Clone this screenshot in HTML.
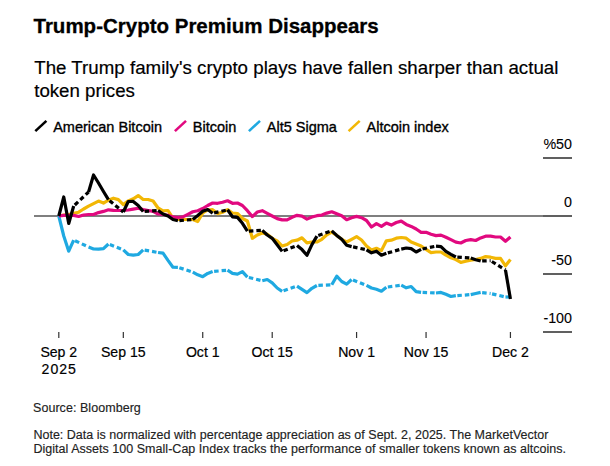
<!DOCTYPE html><html><head><meta charset="utf-8"><style>html,body{margin:0;padding:0;background:#fff;}svg{display:block}text{font-family:"Liberation Sans",sans-serif;} .m{stroke:#000;stroke-width:0.35px;} .n{stroke:#222;stroke-width:0.15px;} .xl{stroke:#000;stroke-width:0.2px;} .yl{stroke:#000;stroke-width:0.1px;}</style></head><body>
<svg width="610" height="466" viewBox="0 0 610 466">
<rect width="610" height="466" fill="#fff"/>
<text x="33.5" y="33" font-size="20.5" font-weight="700" fill="#000" stroke="#000" stroke-width="0.3">Trump-Crypto Premium Disappears</text>
<text x="34.2" y="73.6" font-size="18.7" fill="#000" stroke="#000" stroke-width="0.2" textLength="524.2" lengthAdjust="spacing">The Trump family's crypto plays have fallen sharper than actual</text>
<text x="34.2" y="97.1" font-size="18.7" fill="#000" stroke="#000" stroke-width="0.2">token prices</text>
<line x1="35.30" y1="131.1" x2="46.40" y2="120.9" stroke="#000" stroke-width="2.6" stroke-linecap="butt"/>
<text x="53.2" y="131.7" font-size="14.5" fill="#000" class="m">American Bitcoin</text>
<line x1="174.90" y1="131.1" x2="186.00" y2="120.9" stroke="#e1097f" stroke-width="2.6" stroke-linecap="butt"/>
<text x="192.8" y="131.7" font-size="14.5" fill="#000" class="m">Bitcoin</text>
<line x1="248.90" y1="131.1" x2="260.00" y2="120.9" stroke="#1fa9e1" stroke-width="2.6" stroke-linecap="butt"/>
<text x="266.8" y="131.7" font-size="14.5" fill="#000" class="m">Alt5 Sigma</text>
<line x1="348.60" y1="131.1" x2="359.70" y2="120.9" stroke="#f2b705" stroke-width="2.6" stroke-linecap="butt"/>
<text x="366.5" y="131.7" font-size="14.5" fill="#000" class="m">Altcoin index</text>
<rect x="34" y="215" width="510" height="2" fill="#7f7f7f"/>
<rect x="543" y="157" width="29" height="2" fill="#606060"/>
<rect x="543" y="215" width="29" height="2" fill="#606060"/>
<rect x="543" y="273" width="29" height="2" fill="#606060"/>
<rect x="543" y="331" width="29" height="2" fill="#606060"/>
<text x="572" y="149" font-size="14.3" fill="#000" class="yl" text-anchor="end">%50</text>
<text x="572" y="207" font-size="14.3" fill="#000" class="yl" text-anchor="end">0</text>
<text x="572" y="265" font-size="14.3" fill="#000" class="yl" text-anchor="end">-50</text>
<text x="572" y="323" font-size="14.3" fill="#000" class="yl" text-anchor="end">-100</text>
<rect x="58.20" y="332" width="1.2" height="6" fill="#333"/>
<text x="58.80" y="356.6" font-size="14.1" fill="#000" class="xl" text-anchor="middle">Sep 2</text>
<rect x="122.72" y="332" width="1.2" height="6" fill="#333"/>
<text x="123.32" y="356.6" font-size="14.1" fill="#000" class="xl" text-anchor="middle">Sep 15</text>
<rect x="202.13" y="332" width="1.2" height="6" fill="#333"/>
<text x="202.73" y="356.6" font-size="14.1" fill="#000" class="xl" text-anchor="middle">Oct 1</text>
<rect x="271.61" y="332" width="1.2" height="6" fill="#333"/>
<text x="272.21" y="356.6" font-size="14.1" fill="#000" class="xl" text-anchor="middle">Oct 15</text>
<rect x="355.98" y="332" width="1.2" height="6" fill="#333"/>
<text x="356.58" y="356.6" font-size="14.1" fill="#000" class="xl" text-anchor="middle">Nov 1</text>
<rect x="425.46" y="332" width="1.2" height="6" fill="#333"/>
<text x="426.06" y="356.6" font-size="14.1" fill="#000" class="xl" text-anchor="middle">Nov 15</text>
<rect x="509.83" y="332" width="1.2" height="6" fill="#333"/>
<text x="510.43" y="356.6" font-size="14.1" fill="#000" class="xl" text-anchor="middle">Dec 2</text>
<text x="41.60" y="373.6" font-size="14.1" fill="#000" class="xl" textLength="34.2" lengthAdjust="spacing">2025</text>
<text x="33" y="412" font-size="12.5" fill="#222" class="n" textLength="107.8" lengthAdjust="spacing">Source: Bloomberg</text>
<text x="33.4" y="439" font-size="12.5" fill="#222" class="n" textLength="515" lengthAdjust="spacing">Note: Data is normalized with percentage appreciation as of Sept. 2, 2025. The MarketVector</text>
<text x="33.4" y="452.6" font-size="12.5" fill="#222" class="n" textLength="532.6" lengthAdjust="spacing">Digital Assets 100 Small-Cap Index tracks the performance of smaller tokens known as altcoins.</text>
<polyline points="58.80,216.00 63.76,215.00 68.73,214.50 73.69,213.40 78.65,212.20 83.61,209.00 88.58,206.20 93.54,203.60 98.50,201.10 103.47,203.10 108.43,200.20 113.39,198.20 118.36,199.60 123.32,204.60 128.28,200.90 133.25,198.80 138.21,195.60 143.17,199.50 148.13,199.50 153.10,201.00 158.06,208.00 163.02,210.80 167.99,210.50 172.95,218.20 177.91,219.50 182.88,219.50 187.84,219.50 192.80,219.50 197.76,221.50 202.73,213.00 207.69,210.00 212.65,209.70 217.62,213.60 222.58,212.30 227.54,209.70 232.50,213.00 237.47,213.50 242.43,218.50 247.39,221.00 252.36,238.30 257.32,235.00 262.28,233.00 267.25,234.30 272.21,238.30 277.17,240.90 282.13,246.00 287.10,244.50 292.06,241.00 297.02,240.20 301.99,237.80 306.95,242.80 311.91,242.00 316.88,242.00 321.84,239.30 326.80,234.80 331.77,232.10 336.73,235.40 341.69,239.30 346.65,242.00 351.62,239.30 356.58,236.70 361.54,240.00 366.51,246.00 371.47,250.00 376.43,248.30 381.40,250.60 386.36,240.80 391.32,240.20 396.28,238.20 401.25,237.50 406.21,238.20 411.17,242.10 416.14,244.10 421.10,246.10 426.06,249.30 431.03,252.60 435.99,252.00 440.95,252.00 445.91,255.20 450.88,257.80 455.84,259.50 460.80,262.40 465.77,261.20 470.73,260.10 475.69,259.50 480.66,258.40 485.62,256.60 490.58,257.20 495.54,258.40 500.51,258.40 505.47,265.80 510.43,259.50" fill="none" stroke="#f2b705" stroke-width="3.2" stroke-linejoin="round" stroke-linecap="butt"/>
<polyline points="58.80,216.00 63.76,236.00 68.73,251.20 73.69,240.10" fill="none" stroke="#1fa9e1" stroke-width="3.2" stroke-linejoin="round" stroke-linecap="butt"/>
<polyline points="88.58,247.00 93.54,249.00 98.50,249.20 103.47,248.70 108.43,244.00" fill="none" stroke="#1fa9e1" stroke-width="3.2" stroke-linejoin="round" stroke-linecap="butt"/>
<polyline points="123.32,249.90 128.28,254.50 133.25,255.20 138.21,254.50 143.17,249.90" fill="none" stroke="#1fa9e1" stroke-width="3.2" stroke-linejoin="round" stroke-linecap="butt"/>
<polyline points="158.06,252.50 163.02,253.20 167.99,260.40 172.95,267.20 177.91,267.30" fill="none" stroke="#1fa9e1" stroke-width="3.2" stroke-linejoin="round" stroke-linecap="butt"/>
<polyline points="192.80,272.10 197.76,274.80 202.73,276.70 207.69,273.40 212.65,271.50" fill="none" stroke="#1fa9e1" stroke-width="3.2" stroke-linejoin="round" stroke-linecap="butt"/>
<polyline points="227.54,270.20 232.50,273.40 237.47,274.10 242.43,271.60 247.39,277.10" fill="none" stroke="#1fa9e1" stroke-width="3.2" stroke-linejoin="round" stroke-linecap="butt"/>
<polyline points="262.28,280.80 267.25,279.50 272.21,282.80 277.17,288.00 282.13,291.30" fill="none" stroke="#1fa9e1" stroke-width="3.2" stroke-linejoin="round" stroke-linecap="butt"/>
<polyline points="297.02,286.10 301.99,289.30 306.95,292.60 311.91,288.30 316.88,285.50" fill="none" stroke="#1fa9e1" stroke-width="3.2" stroke-linejoin="round" stroke-linecap="butt"/>
<polyline points="331.77,284.80 336.73,276.20 341.69,281.50 346.65,284.10 351.62,279.50" fill="none" stroke="#1fa9e1" stroke-width="3.2" stroke-linejoin="round" stroke-linecap="butt"/>
<polyline points="366.51,285.40 371.47,288.00 376.43,289.30 381.40,291.20 386.36,287.20" fill="none" stroke="#1fa9e1" stroke-width="3.2" stroke-linejoin="round" stroke-linecap="butt"/>
<polyline points="401.25,285.20 406.21,287.80 411.17,286.50 416.14,291.70 421.10,292.40" fill="none" stroke="#1fa9e1" stroke-width="3.2" stroke-linejoin="round" stroke-linecap="butt"/>
<polyline points="435.99,293.00 440.95,292.40 445.91,294.30 450.88,296.50 455.84,295.70" fill="none" stroke="#1fa9e1" stroke-width="3.2" stroke-linejoin="round" stroke-linecap="butt"/>
<polyline points="470.73,294.60 475.69,293.50 480.66,292.40" fill="none" stroke="#1fa9e1" stroke-width="3.2" stroke-linejoin="round" stroke-linecap="butt"/>
<polyline points="505.47,297.00 510.43,297.00" fill="none" stroke="#1fa9e1" stroke-width="3.2" stroke-linejoin="round" stroke-linecap="butt"/>
<line x1="73.69" y1="240.1" x2="88.58" y2="247" stroke="#1fa9e1" stroke-width="3.2" stroke-dasharray="4.5 3" stroke-dashoffset="-1.5"/>
<line x1="108.43" y1="244" x2="123.32" y2="249.9" stroke="#1fa9e1" stroke-width="3.2" stroke-dasharray="4.5 3" stroke-dashoffset="-1.5"/>
<line x1="143.17" y1="249.9" x2="158.06" y2="252.5" stroke="#1fa9e1" stroke-width="3.2" stroke-dasharray="4.5 3" stroke-dashoffset="-1.5"/>
<line x1="177.91" y1="267.3" x2="192.80" y2="272.1" stroke="#1fa9e1" stroke-width="3.2" stroke-dasharray="4.5 3" stroke-dashoffset="-1.5"/>
<line x1="212.65" y1="271.5" x2="227.54" y2="270.2" stroke="#1fa9e1" stroke-width="3.2" stroke-dasharray="4.5 3" stroke-dashoffset="-1.5"/>
<line x1="247.39" y1="277.1" x2="262.28" y2="280.8" stroke="#1fa9e1" stroke-width="3.2" stroke-dasharray="4.5 3" stroke-dashoffset="-1.5"/>
<line x1="282.13" y1="291.3" x2="297.02" y2="286.1" stroke="#1fa9e1" stroke-width="3.2" stroke-dasharray="4.5 3" stroke-dashoffset="-1.5"/>
<line x1="316.88" y1="285.5" x2="331.77" y2="284.8" stroke="#1fa9e1" stroke-width="3.2" stroke-dasharray="4.5 3" stroke-dashoffset="-1.5"/>
<line x1="351.62" y1="279.5" x2="366.51" y2="285.4" stroke="#1fa9e1" stroke-width="3.2" stroke-dasharray="4.5 3" stroke-dashoffset="-1.5"/>
<line x1="386.36" y1="287.2" x2="401.25" y2="285.2" stroke="#1fa9e1" stroke-width="3.2" stroke-dasharray="4.5 3" stroke-dashoffset="-1.5"/>
<line x1="421.10" y1="292.4" x2="435.99" y2="293" stroke="#1fa9e1" stroke-width="3.2" stroke-dasharray="4.5 3" stroke-dashoffset="-1.5"/>
<line x1="455.84" y1="295.7" x2="470.73" y2="294.6" stroke="#1fa9e1" stroke-width="3.2" stroke-dasharray="4.5 3" stroke-dashoffset="-1.5"/>
<line x1="480.66" y1="292.4" x2="490.58" y2="293.5" stroke="#1fa9e1" stroke-width="3.2" stroke-dasharray="4.5 3" stroke-dashoffset="-1.5"/>
<line x1="490.58" y1="293.5" x2="505.47" y2="297" stroke="#1fa9e1" stroke-width="3.2" stroke-dasharray="4.5 3" stroke-dashoffset="-1.5"/>
<polyline points="58.80,216.00 63.76,215.30 68.73,215.30 73.69,215.40 78.65,216.50 83.61,215.00 88.58,214.50 93.54,214.50 98.50,212.60 103.47,211.40 108.43,209.80 113.39,210.40 118.36,210.50 123.32,210.50 128.28,210.00 133.25,209.10 138.21,208.20 143.17,209.60 148.13,210.50 153.10,211.30 158.06,214.00 163.02,214.50 167.99,215.30 172.95,216.90 177.91,217.50 182.88,216.90 187.84,214.30 192.80,211.80 197.76,210.80 202.73,208.50 207.69,205.50 212.65,203.00 217.62,203.30 222.58,202.30 227.54,200.80 232.50,203.30 237.47,203.00 242.43,205.50 247.39,210.70 252.36,216.60 257.32,212.00 262.28,210.70 267.25,213.40 272.21,216.00 277.17,218.60 282.13,219.90 287.10,219.90 292.06,217.30 297.02,215.30 301.99,216.10 306.95,219.10 311.91,217.00 316.88,215.70 321.84,215.10 326.80,213.10 331.77,211.80 336.73,213.80 341.69,215.70 346.65,219.70 351.62,217.70 356.58,216.40 361.54,217.70 366.51,220.50 371.47,227.00 376.43,223.60 381.40,226.40 386.36,223.10 391.32,225.10 396.28,222.50 401.25,221.10 406.21,224.40 411.17,226.40 416.14,229.00 421.10,232.30 426.06,232.30 431.03,234.30 435.99,235.60 440.95,235.10 445.91,237.20 450.88,239.60 455.84,242.20 460.80,243.00 465.77,240.50 470.73,239.60 475.69,240.50 480.66,237.90 485.62,236.20 490.58,236.20 495.54,237.00 500.51,237.00 505.47,241.30 510.43,237.00" fill="none" stroke="#e1097f" stroke-width="3.2" stroke-linejoin="round" stroke-linecap="butt"/>
<polyline points="58.80,216.00 63.76,197.00 68.73,223.50 73.69,206.00" fill="none" stroke="#000" stroke-width="3.2" stroke-linejoin="round" stroke-linecap="butt"/>
<polyline points="88.58,192.00 93.54,175.00 98.50,183.00 103.47,191.50 108.43,199.70" fill="none" stroke="#000" stroke-width="3.2" stroke-linejoin="round" stroke-linecap="butt"/>
<polyline points="123.32,212.00 128.28,201.50 133.25,201.40 138.21,205.50 143.17,211.50" fill="none" stroke="#000" stroke-width="3.2" stroke-linejoin="round" stroke-linecap="butt"/>
<polyline points="158.06,210.50 163.02,214.00 167.99,216.00 172.95,219.50 177.91,220.80" fill="none" stroke="#000" stroke-width="3.2" stroke-linejoin="round" stroke-linecap="butt"/>
<polyline points="192.80,219.50 197.76,215.50 202.73,211.30 207.69,209.50 212.65,213.20" fill="none" stroke="#000" stroke-width="3.2" stroke-linejoin="round" stroke-linecap="butt"/>
<polyline points="227.54,209.80 232.50,216.80 237.47,217.40 242.43,223.30 247.39,231.20" fill="none" stroke="#000" stroke-width="3.2" stroke-linejoin="round" stroke-linecap="butt"/>
<polyline points="262.28,230.30 267.25,235.00 272.21,238.30 277.17,244.80 282.13,251.40" fill="none" stroke="#000" stroke-width="3.2" stroke-linejoin="round" stroke-linecap="butt"/>
<polyline points="297.02,245.50 301.99,249.60 306.95,255.20 311.91,244.60 316.88,236.10" fill="none" stroke="#000" stroke-width="3.2" stroke-linejoin="round" stroke-linecap="butt"/>
<polyline points="331.77,230.80 336.73,235.40 341.69,239.30 346.65,245.20 351.62,246.60" fill="none" stroke="#000" stroke-width="3.2" stroke-linejoin="round" stroke-linecap="butt"/>
<polyline points="366.51,249.80 371.47,252.80 376.43,251.20 381.40,255.20 386.36,253.30" fill="none" stroke="#000" stroke-width="3.2" stroke-linejoin="round" stroke-linecap="butt"/>
<polyline points="401.25,249.10 406.21,248.00 411.17,248.70 416.14,252.00 421.10,249.30" fill="none" stroke="#000" stroke-width="3.2" stroke-linejoin="round" stroke-linecap="butt"/>
<polyline points="435.99,246.10 440.95,246.60 445.91,251.40 450.88,254.30 455.84,257.00" fill="none" stroke="#000" stroke-width="3.2" stroke-linejoin="round" stroke-linecap="butt"/>
<polyline points="470.73,258.00 475.69,259.70 480.66,261.00" fill="none" stroke="#000" stroke-width="3.2" stroke-linejoin="round" stroke-linecap="butt"/>
<polyline points="505.47,270.00 510.43,299.00" fill="none" stroke="#000" stroke-width="3.2" stroke-linejoin="round" stroke-linecap="butt"/>
<line x1="73.69" y1="206" x2="88.58" y2="192" stroke="#000" stroke-width="3.2" stroke-dasharray="4.5 3" stroke-dashoffset="-1.5"/>
<line x1="108.43" y1="199.7" x2="123.32" y2="212" stroke="#000" stroke-width="3.2" stroke-dasharray="4.5 3" stroke-dashoffset="-1.5"/>
<line x1="143.17" y1="211.5" x2="158.06" y2="210.5" stroke="#000" stroke-width="3.2" stroke-dasharray="4.5 3" stroke-dashoffset="-1.5"/>
<line x1="177.91" y1="220.8" x2="192.80" y2="219.5" stroke="#000" stroke-width="3.2" stroke-dasharray="4.5 3" stroke-dashoffset="-1.5"/>
<line x1="212.65" y1="213.2" x2="227.54" y2="209.8" stroke="#000" stroke-width="3.2" stroke-dasharray="4.5 3" stroke-dashoffset="-1.5"/>
<line x1="247.39" y1="231.2" x2="262.28" y2="230.3" stroke="#000" stroke-width="3.2" stroke-dasharray="4.5 3" stroke-dashoffset="-1.5"/>
<line x1="282.13" y1="251.4" x2="297.02" y2="245.5" stroke="#000" stroke-width="3.2" stroke-dasharray="4.5 3" stroke-dashoffset="-1.5"/>
<line x1="316.88" y1="236.1" x2="331.77" y2="230.8" stroke="#000" stroke-width="3.2" stroke-dasharray="4.5 3" stroke-dashoffset="-1.5"/>
<line x1="351.62" y1="246.6" x2="366.51" y2="249.8" stroke="#000" stroke-width="3.2" stroke-dasharray="4.5 3" stroke-dashoffset="-1.5"/>
<line x1="386.36" y1="253.3" x2="401.25" y2="249.1" stroke="#000" stroke-width="3.2" stroke-dasharray="4.5 3" stroke-dashoffset="-1.5"/>
<line x1="421.10" y1="249.3" x2="435.99" y2="246.1" stroke="#000" stroke-width="3.2" stroke-dasharray="4.5 3" stroke-dashoffset="-1.5"/>
<line x1="455.84" y1="257" x2="470.73" y2="258" stroke="#000" stroke-width="3.2" stroke-dasharray="4.5 3" stroke-dashoffset="-1.5"/>
<line x1="480.66" y1="261" x2="490.58" y2="260.7" stroke="#000" stroke-width="3.2" stroke-dasharray="4.5 3" stroke-dashoffset="-1.5"/>
<line x1="490.58" y1="260.7" x2="505.47" y2="270" stroke="#000" stroke-width="3.2" stroke-dasharray="4.5 3" stroke-dashoffset="-1.5"/>
</svg></body></html>
